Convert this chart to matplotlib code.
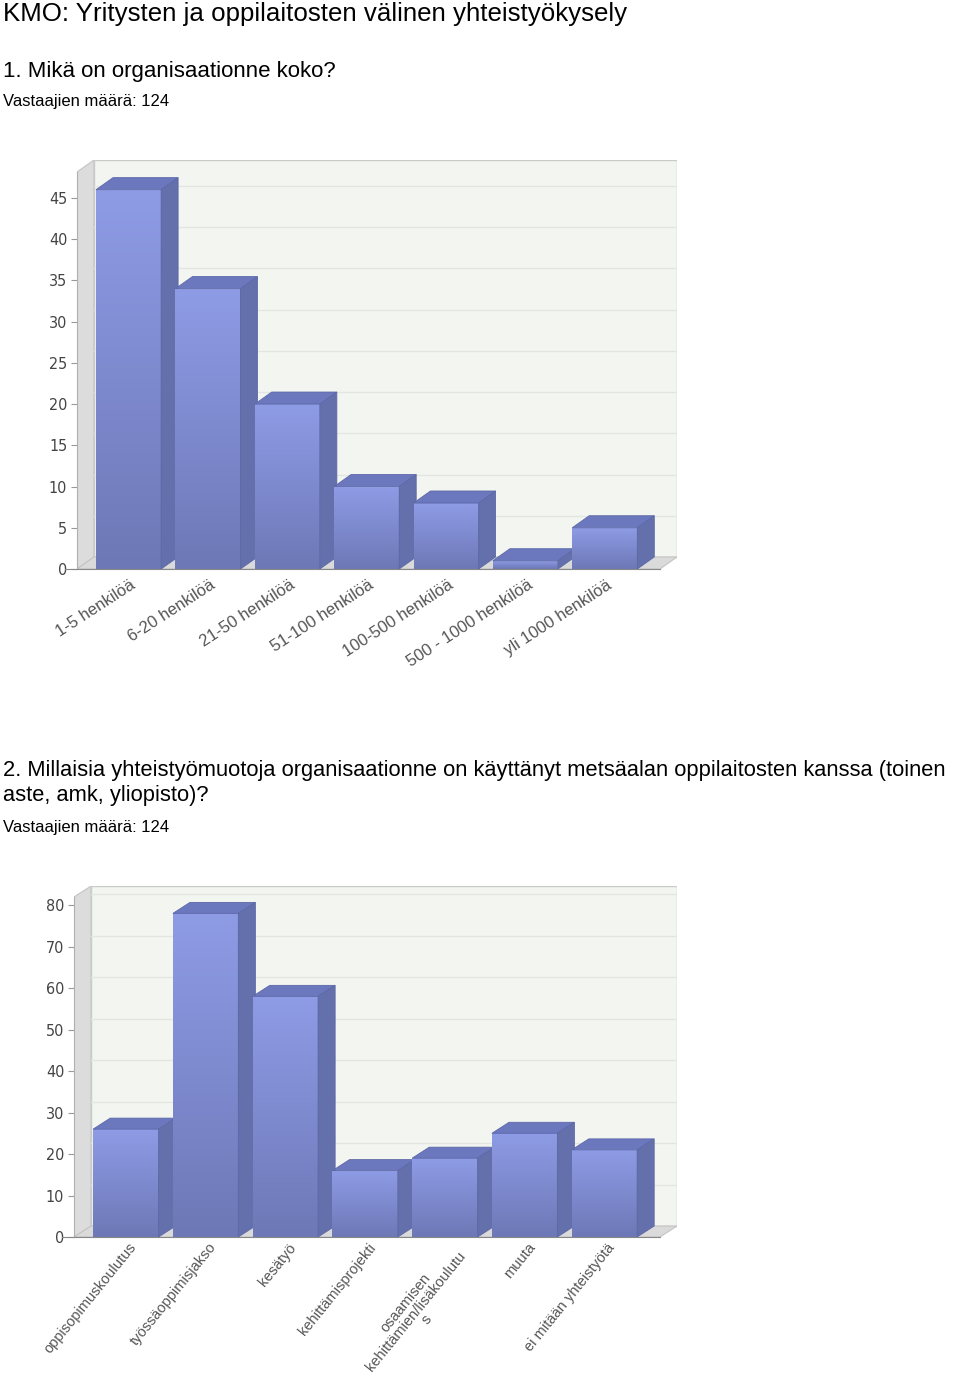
import numpy as np
import matplotlib
matplotlib.use('Agg')
import matplotlib.pyplot as plt
from matplotlib import font_manager
from matplotlib.patches import Polygon
from matplotlib.colors import LinearSegmentedColormap

plt.rcParams['font.family'] = ['Liberation Sans', 'DejaVu Sans']

# data
title = 'KMO: Yritysten ja oppilaitosten välinen yhteistyökysely'
q1 = '1. Mikä on organisaationne koko?'
q2_lines = ['2. Millaisia yhteistyömuotoja organisaationne on käyttänyt metsäalan oppilaitosten kanssa (toinen',
            'aste, amk, yliopisto)?']
respondents = 'Vastaajien määrä: 124'

q1_labels = ['1-5 henkilöä', '6-20 henkilöä', '21-50 henkilöä', '51-100 henkilöä',
             '100-500 henkilöä', '500 - 1000 henkilöä', 'yli 1000 henkilöä']
q1_values = [46, 34, 20, 10, 8, 1, 5]
q1_ticks = [0, 5, 10, 15, 20, 25, 30, 35, 40, 45]

q2_labels = ['oppisopimuskoulutus', 'työssäoppimisjakso', 'kesätyö', 'kehittämisprojekti',
             'osaamisen\nkehittämien/lisäkoulutu\ns', 'muuta', 'ei mitään yhteistyötä']
q2_values = [26, 78, 58, 16, 19, 25, 21]
q2_ticks = [0, 10, 20, 30, 40, 50, 60, 70, 80]

names = {f.name for f in font_manager.fontManager.ttflist}
narrow = 'Liberation Sans Narrow' if 'Liberation Sans Narrow' in names else 'DejaVu Sans'

W, H = 960, 1380
fig = plt.figure(figsize=(W / 100, H / 100), dpi=100)


def fy(y):
    return 1 - y / H


def rect(left, right, top, bottom):
    return [left / W, 1 - bottom / H, (right - left) / W, (bottom - top) / H]


cmap = LinearSegmentedColormap.from_list('bar', ['#6d78b6', '#8e9ce6'])
xmin, xmax = -0.65, 6.91
dx = 0.214
width = 0.82


def draw_chart(ax, labels, values, ticks, ymax, dy, rot, lab_dx, lab_off, lab_size):
    ax.set_xlim(xmin, xmax)
    ax.set_ylim(0, ymax)
    # walls and floor
    ax.add_patch(Polygon([(xmin, 0), (xmin + dx, dy), (xmin + dx, ymax), (xmin, ymax - dy)],
                         closed=True, fc='#dcdcdc', ec='#c4c4c4', lw=0.8, zorder=0))
    ax.add_patch(Polygon([(xmin + dx, dy), (xmax, dy), (xmax, ymax), (xmin + dx, ymax)],
                         closed=True, fc='#f3f5f1', ec='#c8ccc8', lw=1, zorder=0))
    ax.add_patch(Polygon([(xmin, 0), (xmax - dx, 0), (xmax, dy), (xmin + dx, dy)],
                         closed=True, fc='#dadada', ec='#c4c4c4', lw=0.8, zorder=0))
    for v in ticks[1:]:
        ax.plot([xmin + dx, xmax], [v + dy, v + dy], color='#e0e6e0', lw=1, zorder=0.5)

    x = np.arange(len(values))
    bars = ax.bar(x, values, width=width, color='none', edgecolor='none', zorder=2)
    for i, (b, v) in enumerate(zip(bars, values)):
        z = 2 + i * 0.1
        x0, x1 = b.get_x(), b.get_x() + b.get_width()
        front = Polygon([(x0, 0), (x1, 0), (x1, v), (x0, v)], closed=True,
                        fc='#7f8bd3', ec='#5d68a8', lw=0.6, zorder=z)
        ax.add_patch(front)
        img = ax.imshow(np.linspace(1, 0, 256).reshape(-1, 1), cmap=cmap, aspect='auto',
                        extent=[x0, x1, 0, v], zorder=z + 0.01)
        img.set_clip_path(front)
        ax.add_patch(Polygon([(x0, v), (x1, v), (x1 + dx, v + dy), (x0 + dx, v + dy)], closed=True,
                             fc='#6b78bd', ec='#5d68a8', lw=0.6, zorder=z + 0.02))
        ax.add_patch(Polygon([(x1, 0), (x1 + dx, dy), (x1 + dx, v + dy), (x1, v)], closed=True,
                             fc='#6470ab', ec='#5d68a8', lw=0.6, zorder=z + 0.02))
        ax.annotate(labels[i], xy=(i + lab_dx, 0), xytext=(0, -lab_off), textcoords='offset points',
                    rotation=rot, rotation_mode='anchor', ha='right', va='top',
                    multialignment='center', fontsize=lab_size, color='#555555',
                    linespacing=0.95)
    ax.set_xlim(xmin, xmax)
    ax.set_ylim(0, ymax)

    for s in ['top', 'right']:
        ax.spines[s].set_visible(False)
    ax.spines['left'].set_bounds(0, ymax - dy)
    ax.spines['left'].set_color('#b0b0b0')
    ax.spines['bottom'].set_bounds(xmin - 0.15, xmax - dx)
    ax.spines['bottom'].set_color('#888888')
    ax.spines['bottom'].set_zorder(5)
    ax.set_xticks([])
    ax.set_yticks(ticks)
    ax.tick_params(axis='y', direction='out', length=4, color='#999999',
                   labelcolor='#444444', labelsize=11.5, pad=3)
    for t in ax.get_yticklabels():
        t.set_fontfamily(narrow)
        t.set_fontstretch('condensed')
    ax.patch.set_visible(False)


ax1 = fig.add_axes(rect(77, 677, 160, 569))
draw_chart(ax1, q1_labels, q1_values, q1_ticks, 49.6, 1.46, 33, 0.02, 6, 12)

ax2 = fig.add_axes(rect(74, 677, 886, 1237))
draw_chart(ax2, q2_labels, q2_values, q2_ticks, 84.6, 2.65, 51, 0.03, 2.5, 10.5)

fig.text(3 / W, fy(21), title, fontsize=18.6, va='baseline', ha='left')
fig.text(3 / W, fy(77), q1, fontsize=16, va='baseline', ha='left')
fig.text(3 / W, fy(106), respondents, fontsize=12, va='baseline', ha='left')
fig.text(3 / W, fy(776), q2_lines[0], fontsize=15.75, va='baseline', ha='left')
fig.text(3 / W, fy(801), q2_lines[1], fontsize=15.75, va='baseline', ha='left')
fig.text(3 / W, fy(832), respondents, fontsize=12, va='baseline', ha='left')

fig.savefig('out.png', dpi=100)
